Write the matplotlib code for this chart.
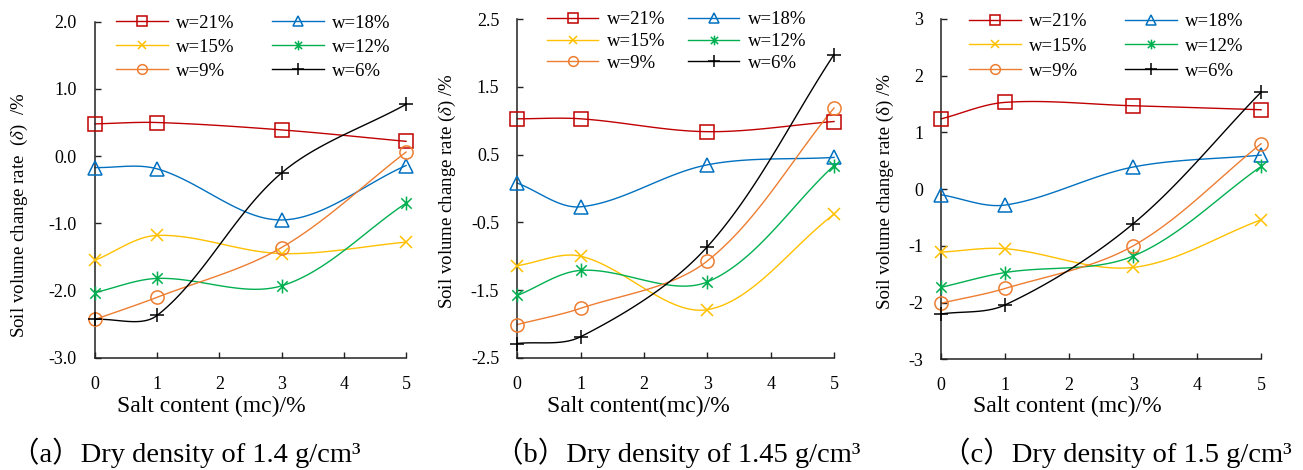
import numpy as np
import matplotlib
matplotlib.use("Agg")
from matplotlib import pyplot as plt
from matplotlib.lines import Line2D
from matplotlib.path import Path

plt.rcParams["font.family"] = ["Liberation Serif", "Noto Sans CJK SC"]
plt.rcParams["mathtext.fontset"] = "stix"
plt.rcParams["axes.unicode_minus"] = False

# salt content (%)
salt = [0, 1, 3, 5]
labels = ["w=21%", "w=18%", "w=15%", "w=12%", "w=9%", "w=6%"]

# soil volume change rate (%), one list per water content, for each dry density
vals_14 = {
    "w=21%": [0.48, 0.50, 0.39, 0.22],
    "w=18%": [-0.17, -0.19, -0.95, -0.14],
    "w=15%": [-1.55, -1.18, -1.45, -1.28],
    "w=12%": [-2.03, -1.82, -1.93, -0.70],
    "w=9%": [-2.43, -2.10, -1.36, 0.06],
    "w=6%": [-2.43, -2.37, -0.25, 0.77],
}
vals_145 = {
    "w=21%": [1.03, 1.03, 0.84, 0.99],
    "w=18%": [0.08, -0.27, 0.35, 0.46],
    "w=15%": [-1.14, -1.00, -1.79, -0.38],
    "w=12%": [-1.58, -1.21, -1.38, 0.34],
    "w=9%": [-2.01, -1.77, -1.07, 1.19],
    "w=6%": [-2.29, -2.19, -0.86, 1.98],
}
vals_15 = {
    "w=21%": [1.24, 1.53, 1.47, 1.40],
    "w=18%": [-0.10, -0.28, 0.39, 0.60],
    "w=15%": [-1.11, -1.05, -1.38, -0.54],
    "w=12%": [-1.73, -1.47, -1.18, 0.40],
    "w=9%": [-2.01, -1.75, -1.00, 0.80],
    "w=6%": [-2.20, -2.04, -0.61, 1.71],
}

colors = {"w=21%": "#C00000", "w=18%": "#0070C0", "w=15%": "#FFC000",
          "w=12%": "#00B050", "w=9%": "#ED7D31", "w=6%": "#000000"}

star = Path([(0, -1), (0, 1), (-0.75, -0.75), (0.75, 0.75), (-0.75, 0.75), (0.75, -0.75)],
            [Path.MOVETO, Path.LINETO, Path.MOVETO, Path.LINETO, Path.MOVETO, Path.LINETO])
# marker, size on the plot, size in the legend
markers = {"w=21%": ("s", 10, 7), "w=18%": ("^", 10, 7.5), "w=15%": ("x", 8, 6),
           "w=12%": (star, 10, 7), "w=9%": ("o", 9.5, 7), "w=6%": ("+", 10, 8)}


def smooth(x, y, sx, sy, n=40):
    # excel-like smoothed line: bezier, tangent arms weighted by on-screen segment length
    p = np.column_stack([x, y]).astype(float)
    q = p * [sx, sy]
    d = np.hypot(*np.diff(q, axis=0).T)
    k = len(p)
    out_arm = np.zeros_like(p)
    in_arm = np.zeros_like(p)
    for i in range(k):
        if i == 0:
            out_arm[i] = (p[1] - p[0]) / 3
        elif i == k - 1:
            in_arm[i] = (p[i] - p[i - 1]) / 3
        else:
            t = p[i + 1] - p[i - 1]
            tot = d[i - 1] + d[i]
            in_arm[i] = t * d[i - 1] / tot / 3
            out_arm[i] = t * d[i] / tot / 3
    segs = []
    for i in range(k - 1):
        p1, p2 = p[i], p[i + 1]
        c1 = p1 + out_arm[i]
        c2 = p2 - in_arm[i + 1]
        t = np.linspace(0, 1, n + 1)[:, None]
        seg = (1 - t) ** 3 * p1 + 3 * (1 - t) ** 2 * t * c1 + 3 * (1 - t) * t ** 2 * c2 + t ** 3 * p2
        segs.append(seg if i == 0 else seg[1:])
    segs = np.vstack(segs)
    return segs[:, 0], segs[:, 1]


panels = [
    dict(vals=vals_14, rect=[0.0729, 0.2389, 0.2387, 0.7149], ylim=(-3.0, 2.0),
         yticks=np.arange(-3.0, 2.01, 1.0), fmt="{:.1f}",
         ylabel="Soil volume change rate  ($\\delta$)  /%", ylab_xy=(19, 215),
         xlabel="Salt content (mc)/%", xlab_xy=(211, 406),
         caption="（a）Dry density of 1.4 g/cm³", cap_xy=(186, 453),
         leg=dict(anchor=(0.0675, 1.021), colsp=2.0, lsp=0.36)),
    dict(vals=vals_145, rect=[0.3970, 0.2389, 0.2431, 0.7200], ylim=(-2.5, 2.5),
         yticks=np.arange(-2.5, 2.51, 1.0), fmt="{:.1f}",
         ylabel="Soil volume change rate ($\\delta$) /%", ylab_xy=(447, 191),
         xlabel="Salt content(mc)/%", xlab_xy=(638, 406),
         caption="（b）Dry density of 1.45 g/cm³", cap_xy=(678, 453),
         leg=dict(anchor=(0.093, 1.024), colsp=1.2, lsp=0.25)),
    dict(vals=vals_15, rect=[0.7224, 0.2355, 0.2454, 0.7241], ylim=(-3, 3),
         yticks=np.arange(-3, 3.01, 1), fmt="{:.0f}",
         ylabel="Soil volume change rate (δ) /%", ylab_xy=(885, 192),
         xlabel="Salt content (mc)/%", xlab_xy=(1067, 406),
         caption="（c）Dry density of 1.5 g/cm³", cap_xy=(1117, 453),
         leg=dict(anchor=(0.087, 1.017), colsp=2.0, lsp=0.4)),
]

W, H = 1303, 470
fig = plt.figure(figsize=(W / 100, H / 100), dpi=100)

for pn in panels:
    ax = fig.add_axes(pn["rect"])
    y0, y1 = pn["ylim"]
    # pixels per data unit, used for the smoothing weights
    px_x = pn["rect"][2] * W / 5
    px_y = pn["rect"][3] * H / (y1 - y0)
    handles = {}
    for lab in labels:
        y = pn["vals"][lab]
        c = colors[lab]
        m, ms, lms = markers[lab]
        sx, sy = smooth(salt, y, px_x, px_y)
        ax.plot(sx, sy, color=c, lw=1.0, clip_on=False, zorder=2)
        ax.plot(salt, y, ls="none", marker=m, ms=ms, mfc="none", mec=c, mew=1.1,
                clip_on=False, zorder=3)
        handles[lab] = Line2D([], [], color=c, lw=1.0, marker=m, ms=lms, mfc="none", mec=c, mew=1.1)
    order = ["w=21%", "w=15%", "w=9%", "w=18%", "w=12%", "w=6%"]
    lg = pn["leg"]
    ax.legend([handles[k] for k in order], order, ncol=2, loc="upper left",
              bbox_to_anchor=lg["anchor"], frameon=False, fontsize=13.5,
              handlelength=2.75, handletextpad=0.45, columnspacing=lg["colsp"],
              labelspacing=lg["lsp"], borderpad=0, borderaxespad=0)

    ax.set_xlim(0, 5)
    ax.set_ylim(y0, y1)
    ax.set_xticks(range(6))
    ax.set_yticks(pn["yticks"])
    ax.set_yticklabels([pn["fmt"].format(v) for v in pn["yticks"]])
    ax.tick_params(direction="in", length=4.5, width=1.0, labelsize=13, pad=13, color="#222222")
    for s in ["top", "right"]:
        ax.spines[s].set_visible(False)
    for s in ["left", "bottom"]:
        ax.spines[s].set_linewidth(1.1)
        ax.spines[s].set_color("#222222")

    fig.text(pn["ylab_xy"][0] / W, 1 - pn["ylab_xy"][1] / H, pn["ylabel"], rotation=90,
             ha="center", va="center", fontsize=13.6)
    fig.text(pn["xlab_xy"][0] / W, 1 - pn["xlab_xy"][1] / H, pn["xlabel"],
             ha="center", va="center", fontsize=17)
    fig.text(pn["cap_xy"][0] / W, 1 - pn["cap_xy"][1] / H, pn["caption"],
             ha="center", va="center", fontsize=20.5)

fig.savefig("out.png", dpi=100)
